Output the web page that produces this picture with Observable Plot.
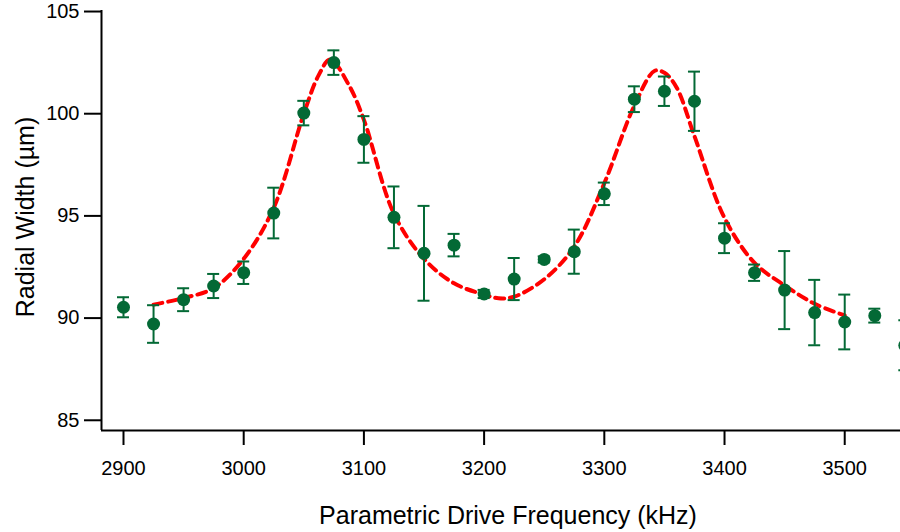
<!DOCTYPE html>
<html>
<head>
<meta charset="utf-8">
<script src="https://cdn.jsdelivr.net/npm/d3@7"></script>
<script src="https://cdn.jsdelivr.net/npm/@observablehq/plot@0.6"></script>
<style>
  html, body { margin: 0; padding: 0; background: white; overflow: hidden; }
</style>
</head>
<body>
<div id="chart"></div>
<script>
const freq = [2900, 2925, 2950, 2975, 3000, 3025, 3050, 3075, 3100, 3125, 3150, 3175, 3200, 3225, 3250, 3275, 3300, 3325, 3350, 3375, 3400, 3425, 3450, 3475, 3500, 3525, 3550];
const width_um = [90.53, 89.71, 90.90, 91.57, 92.22, 95.14, 100.03, 102.5, 98.74, 94.93, 93.17, 93.57, 91.18, 91.91, 92.87, 93.25, 96.08, 100.71, 101.1, 100.61, 93.91, 92.22, 91.37, 90.27, 89.81, 90.12, 88.67];
const err_um = [0.49, 0.92, 0.56, 0.59, 0.55, 1.24, 0.6, 0.6, 1.14, 1.51, 2.32, 0.55, 0.2, 1.03, 0.15, 1.08, 0.55, 0.63, 0.72, 1.45, 0.73, 0.4, 1.91, 1.6, 1.34, 0.34, 1.22];

const fitFreq = [2925, 2950, 2975, 3000, 3025, 3050, 3062.5, 3072, 3087.5, 3100, 3125, 3150, 3175, 3200, 3212, 3225, 3250, 3275, 3300, 3325, 3342, 3350, 3360, 3375, 3400, 3425, 3450, 3475, 3500];
const fitWidth = [90.66, 90.98, 91.47, 92.9, 95.4, 100.0, 101.9, 102.65, 101.4, 99.7, 95.1, 92.9, 91.7, 91.15, 90.97, 91.05, 91.9, 93.5, 96.6, 100.4, 102.1, 102.0, 101.3, 98.9, 94.9, 92.7, 91.6, 90.7, 90.13];

const xTicks = [2900, 3000, 3100, 3200, 3300, 3400, 3500];
const yTicks = [85, 90, 95, 100, 105];
const xDomain = [2881.7, 3546.4];
const yDomain = [84.5, 105.05];
const capHalf = 5;

const pts = freq.map((f, i) => ({f, w: width_um[i], lo: width_um[i] - err_um[i], hi: width_um[i] + err_um[i]}));
const fit = fitFreq.map((f, i) => ({f, w: fitWidth[i]}));

const green = "#036935";
const plot = Plot.plot({
  width: 900,
  height: 532,
  marginLeft: 101,
  marginRight: 0,
  marginTop: 10,
  marginBottom: 102,
  style: {fontFamily: "'Liberation Sans', Arial, sans-serif", fontSize: "20px", color: "black", background: "white"},
  x: {domain: xDomain, range: [101, 900]},
  y: {domain: yDomain},
  marks: [
    Plot.axisX({ticks: xTicks, tickSize: 15, tickPadding: 15, tickFormat: d => String(d), label: null, fontSize: 20, strokeWidth: 2}),
    Plot.axisY({ticks: yTicks, tickSize: 17, tickPadding: 5, tickFormat: d => String(d), label: null, fontSize: 20, strokeWidth: 2}),
    Plot.ruleX([xDomain[0]], {stroke: "black", strokeWidth: 2}),
    Plot.ruleY([yDomain[0]], {stroke: "black", strokeWidth: 2}),
    Plot.line(fit, {x: "f", y: "w", stroke: "#ff0000", strokeWidth: 4, strokeDasharray: "9,6", curve: "catmull-rom"}),
    Plot.ruleX(pts, {x: "f", y1: "lo", y2: "hi", stroke: green, strokeWidth: 2}),
    Plot.ruleY(pts, {y: "lo", x1: d => d.f - capHalf, x2: d => d.f + capHalf, stroke: green, strokeWidth: 2}),
    Plot.ruleY(pts, {y: "hi", x1: d => d.f - capHalf, x2: d => d.f + capHalf, stroke: green, strokeWidth: 2}),
    Plot.dot(pts, {x: "f", y: "w", r: 6.5, fill: green, stroke: "none"}),
    Plot.text(["Parametric Drive Frequency (kHz)"], {frameAnchor: "bottom", lineAnchor: "middle", textAnchor: "middle", dy: 85, dx: 7, fontSize: 25, fill: "black"}),
    Plot.text(["Radial Width (µm)"], {frameAnchor: "left", lineAnchor: "middle", textAnchor: "middle", rotate: -90, dx: -76, dy: -3.5, fontSize: 25, fill: "black"})
  ]
});
document.getElementById("chart").appendChild(plot);
</script>
</body>
</html>
